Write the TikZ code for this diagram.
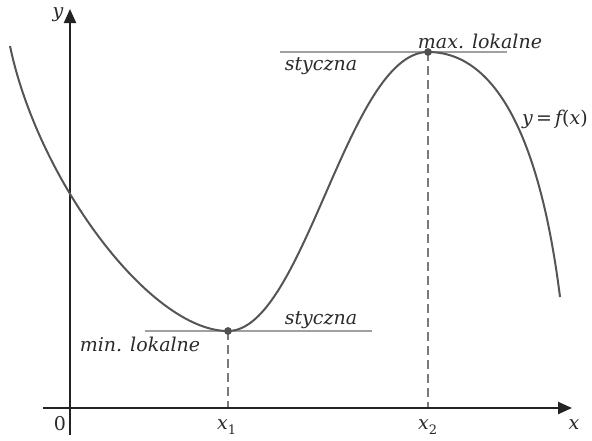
\documentclass[tikz,border=0pt]{standalone}
\usepackage{fontspec}
\setmainfont{DejaVu Serif}
\usetikzlibrary{arrows.meta}
\definecolor{axisc}{HTML}{232323}
\definecolor{curvec}{HTML}{555555}
\definecolor{tanc}{HTML}{A0A0A0}
\definecolor{dashc}{HTML}{7A7A7A}
\definecolor{dotc}{HTML}{505050}
\definecolor{textc}{HTML}{2A2A2A}
\newcommand{\xsub}[1]{\textit{x}\raisebox{-0.55ex}{\upshape\fontsize{13}{14}\selectfont #1}}
\begin{document}
\begin{tikzpicture}[x=1pt,y=-1pt,
  axisline/.style={draw=axisc, line width=2.2pt, -{Triangle[length=14pt,width=12pt]}},
  curveline/.style={draw=curvec, line width=2pt},
  tanline/.style={draw=tanc, line width=1.3pt},
  dropline/.style={draw=dashc, line width=1.4pt, dash pattern=on 9pt off 5pt},
  ptdot/.style={circle, fill=dotc, inner sep=0pt, minimum size=7.5pt},
  lbl/.style={text=textc, inner sep=0pt, font=\itshape\fontsize{19}{22}\selectfont},
  numlbl/.style={text=textc, inner sep=0pt, font=\fontsize{19}{22}\selectfont}]
\useasboundingbox (0,0) rectangle (592,440);
% key points
\coordinate (o) at (70,408);
\coordinate (xa) at (43,408);
\coordinate (xb) at (572,408);
\coordinate (ya) at (70,435);
\coordinate (yb) at (70,9);
\coordinate (t1a) at (145,331);
\coordinate (t1b) at (372,331);
\coordinate (t2a) at (280,52);
\coordinate (t2b) at (507,52);
\coordinate (f1) at (228,408);
\coordinate (f2) at (428,408);
\coordinate (cs) at (10,46);
\coordinate (ce) at (560,297);
% tangents
\draw[tanline] (t1a) -- (t1b);
\draw[tanline] (t2a) -- (t2b);
% drop lines
\node[ptdot] (pmin) at (228,331) {};
\node[ptdot] (pmax) at (428,52) {};
\draw[dropline] (pmin.center) -- (f1);
\draw[dropline] (pmax.center) -- (f2);
% axes
\draw[axisline] (xa) -- (xb);
\draw[axisline] (ya) -- (yb);
% curve
\draw[curveline] (cs) .. controls (38,180) and (150,331) .. (pmin.center)
  .. controls (304,331) and (348,52) .. (pmax.center)
  .. controls (510,52) and (545,177) .. (ce);
\node[ptdot] at (pmin) {};
\node[ptdot] at (pmax) {};
% labels
\node[lbl] (ylab) at (58,15) {y};
\node[lbl] (xlab) at (574,425) {x};
\node[numlbl] (zero) at (60,424) {0};
\node[lbl, anchor=west] (x1lab) at (217,427) {\xsub{1}};
\node[lbl, anchor=west] (x2lab) at (418,427) {\xsub{2}};
\node[lbl] (s1) at (321,320) {styczna};
\node[lbl] (s2) at (321,66) {styczna};
\node[lbl] (maxl) at (480,41) {max. lokalne};
\node[lbl] (minl) at (140,344) {min. lokalne};
\node[lbl] (fl) at (555,119) {y\,{\upshape=}\,f{\upshape(}x{\upshape)}};
\end{tikzpicture}
\end{document}
